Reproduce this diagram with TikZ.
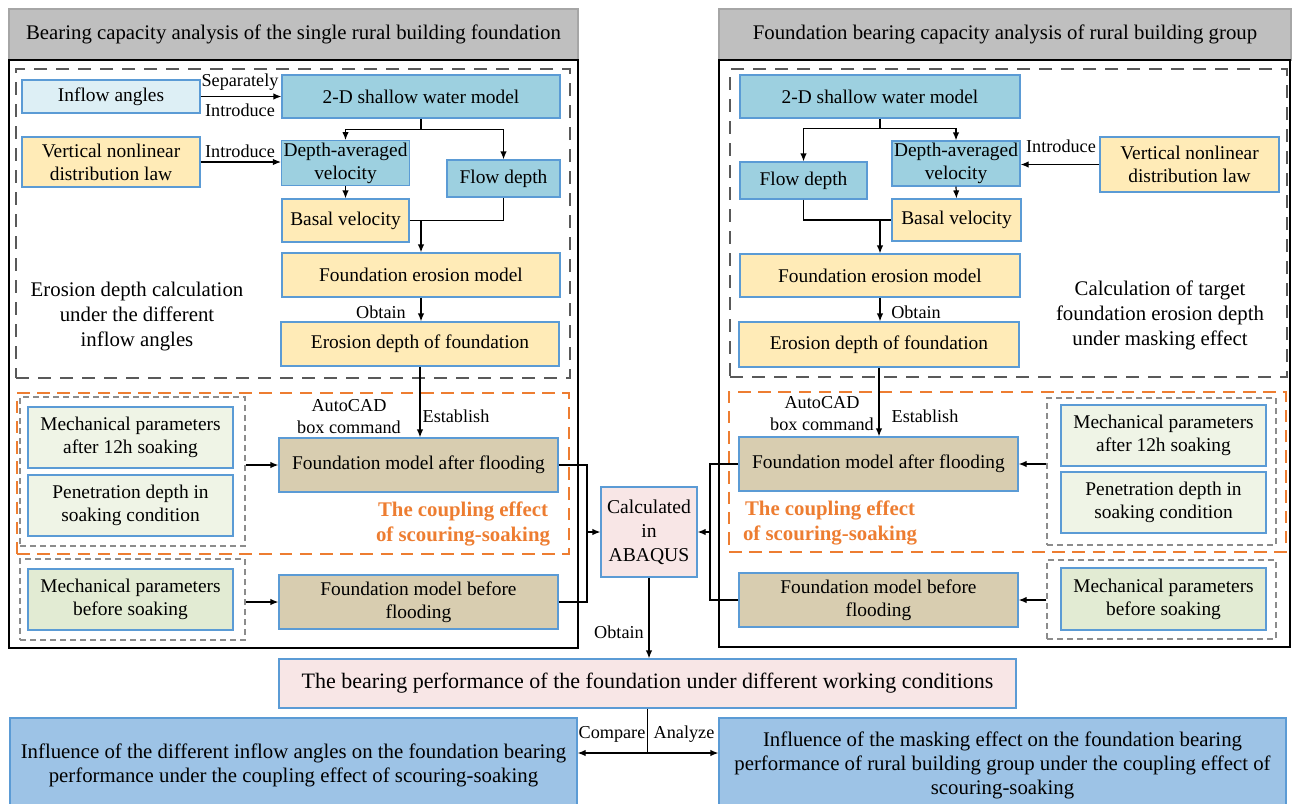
\documentclass[tikz,border=0pt]{standalone}
\usepackage{fontspec}
\setmainfont{Liberation Serif}
\usetikzlibrary{arrows.meta,positioning,calc}

\definecolor{boxline}{HTML}{5B9BD5}
\definecolor{titlegray}{HTML}{BFBFBF}
\definecolor{titleline}{HTML}{A6A6A6}
\definecolor{waterblue}{HTML}{9DD0E0}
\definecolor{paleblue}{HTML}{DDEFF5}
\definecolor{lawyellow}{HTML}{FFEBB7}
\definecolor{modeltan}{HTML}{D8CDB0}
\definecolor{palegreen}{HTML}{EFF4E6}
\definecolor{soakgreen}{HTML}{E2EBD3}
\definecolor{calcpink}{HTML}{F8E6E6}
\definecolor{resultblue}{HTML}{9DC3E6}
\definecolor{darkdashc}{HTML}{595959}
\definecolor{lightdashc}{HTML}{8C8C8C}
\definecolor{couplingc}{HTML}{ED7D31}

\begin{document}
\begin{tikzpicture}[
  x=0.5pt, y=-0.5pt,
  >={Latex[length=4pt,width=3.2pt]},
  font=\fontsize{10.4}{12.5}\selectfont,
  sz/.style 2 args={minimum width=#1*0.5pt, minimum height=#2*0.5pt},
  base/.style={draw=boxline, line width=0.6pt, inner sep=1pt, align=center, font=\fontsize{9.7}{11.5}\selectfont},
  water/.style={base, fill=waterblue},
  inflowbox/.style={base, fill=paleblue},
  lawbox/.style={base, fill=lawyellow},
  modelbox/.style={base, fill=modeltan},
  parabox/.style={base, fill=palegreen},
  drybox/.style={base, fill=soakgreen},
  calcbox/.style={base, fill=calcpink},
  resultbox/.style={base, fill=resultblue, font=\fontsize{10.4}{12}\selectfont},
  titlebox/.style={draw=titleline, fill=titlegray, line width=0.6pt},
  frame/.style={draw=black, line width=0.6pt},
  darkdash/.style={draw=darkdashc, line width=1pt, dash pattern=on 6.5pt off 4.5pt},
  orangedash/.style={draw=couplingc, line width=1.1pt, dash pattern=on 6.3pt off 3.8pt},
  lightdash/.style={draw=lightdashc, line width=0.6pt, dash pattern=on 3pt off 2pt},
  lab/.style={inner sep=1pt, font=\fontsize{9.1}{11}\selectfont, align=center},
  coupling/.style={text=couplingc, font=\fontsize{10.4}{12.5}\selectfont\bfseries, align=center},
  conn/.style={line width=0.6pt}
]
\useasboundingbox (0,0) rectangle (1293,803);

% ---------------- left: single rural building ----------------
\node[titlebox, sz={569}{51}] (title1) at (293.5,34.5) {Bearing capacity analysis of the single rural building foundation};
\draw[frame] (9,60) rectangle (578,648);
\node[darkdash, sz={554}{309}] (dash1) at (293,223.5) {};
\node[orangedash, sz={552}{161}] (orange1) at (293,473.5) {};
\node[lightdash, sz={225}{149}] (gray1) at (132.5,471.5) {};
\node[lightdash, sz={225}{81}] (gray2) at (132.5,599.5) {};

\node[inflowbox, sz={178}{33}] (inflow) at (111,96.5) {Inflow angles};
\node[water, sz={278}{43}] (swm1) at (421,96.5) {2-D shallow water model};
\node[lawbox, sz={178}{50}] (vnl1) at (111,162) {Vertical nonlinear\\distribution law};
\node[water, sz={127}{44}] (dav1) at (345.5,163) {Depth-averaged\\velocity};
\node[water, sz={113}{37}] (fd1) at (503.5,178.5) {Flow depth};
\node[lawbox, sz={127}{43}] (bv1) at (345.5,220.5) {Basal velocity};
\node[lawbox, sz={278}{44}] (fem1) at (421,275) {Foundation erosion model};
\node[lawbox, sz={278}{44}] (edf1) at (420,344) {Erosion depth of foundation};
\node[align=center] (calc1) at (137,317) {Erosion depth calculation\\under the different\\inflow angles};

\node[parabox, sz={205}{61}] (mpa1) at (130.5,437.5) {Mechanical parameters\\after 12h soaking};
\node[parabox, sz={205}{61}] (pen1) at (130.5,505.5) {Penetration depth in\\soaking condition};
\node[modelbox, sz={279}{54}] (fma1) at (418.5,465) {Foundation model after flooding};
\node[coupling] (cpl1) at (463,524) {The coupling effect\\of scouring-soaking};
\node[drybox, sz={205}{61}] (mpb1) at (130.5,599.5) {Mechanical parameters\\before soaking};
\node[modelbox, sz={279}{54}] (fmb1) at (418.5,602) {Foundation model before\\flooding};

\node[lab] (sep1) at (240,82) {Separately};
\node[lab] (intro1) at (240,110) {Introduce};
\node[lab] (intro2) at (240,151) {Introduce};
\node[lab] (obt1) at (381,312) {Obtain};
\node[lab] (cad1) at (349,417) {AutoCAD\\box command};
\node[lab] (est1) at (456,416) {Establish};

\draw[conn,->] (inflow.east) -- (swm1.west);
\draw[conn,->] (vnl1.east) -- (dav1.west |- vnl1.east);
\draw[conn] (swm1.south) -- ++(0,11) coordinate (s1);
\draw[conn,->] (s1) -| (dav1.north);
\draw[conn,->] (s1) -| (fd1.north);
\draw[conn,->] (dav1.south) -- (bv1.north);
\draw[conn] (bv1.east) -| (fd1.south);
\draw[conn,->] (bv1.east -| fem1.north) -- (fem1.north);
\draw[conn,->] (fem1.south) -- (fem1.south |- edf1.north);
\draw[conn,->] (edf1.south) -- (edf1.south |- fma1.north);
\draw[conn,->] (gray1.east |- fma1.west) -- (fma1.west);
\draw[conn,->] (gray2.east |- fmb1.west) -- (fmb1.west);

% ---------------- centre ----------------
\node[calcbox, sz={96}{90}, font=\fontsize{9.8}{12}\selectfont] (abaqus) at (649,532) {Calculated\\in\\ABAQUS};
\coordinate (j1) at (587,532);
\coordinate (j2) at (710,532);
\draw[conn] (fma1.east) -| (j1);
\draw[conn] (fmb1.east) -| (j1);
\draw[conn,->] (j1) -- (abaqus.west);

% ---------------- right: rural building group ----------------
\node[titlebox, sz={572}{51}] (title2) at (1005,34.5) {Foundation bearing capacity analysis of rural building group};
\draw[frame] (719,60) rectangle (1290,647);
\node[darkdash, sz={557}{308}] (dash2) at (1008.5,223) {};
\node[orangedash, sz={557}{160}] (orange2) at (1007.5,472) {};
\node[lightdash, sz={229}{147}] (gray3) at (1161.5,471.5) {};
\node[lightdash, sz={229}{79}] (gray4) at (1161.5,599.5) {};

\node[water, sz={280}{43}] (swm2) at (880,96.5) {2-D shallow water model};
\node[water, sz={127}{37}] (fd2) at (803.5,180.5) {Flow depth};
\node[water, sz={128}{45}] (dav2) at (956,163.5) {Depth-averaged\\velocity};
\node[lawbox, sz={179}{55}] (vnl2) at (1189.5,164.5) {Vertical nonlinear\\distribution law};
\node[lawbox, sz={129}{42}] (bv2) at (956.5,220) {Basal velocity};
\node[lawbox, sz={280}{43}] (fem2) at (880,275.5) {Foundation erosion model};
\node[lawbox, sz={280}{45}] (edf2) at (879,344.5) {Erosion depth of foundation};
\node[align=center] (calc2) at (1160,315) {Calculation of target\\foundation erosion depth\\under masking effect};

\node[parabox, sz={205}{61}] (mpa2) at (1163.5,435.5) {Mechanical parameters\\after 12h soaking};
\node[parabox, sz={205}{61}] (pen2) at (1163.5,502.5) {Penetration depth in\\soaking condition};
\node[modelbox, sz={279}{54}] (fma2) at (878.5,464) {Foundation model after flooding};
\node[coupling] (cpl2) at (830,523) {The coupling effect\\of scouring-soaking};
\node[drybox, sz={205}{62}] (mpb2) at (1163.5,599) {Mechanical parameters\\before soaking};
\node[modelbox, sz={279}{54}] (fmb2) at (878.5,600) {Foundation model before\\flooding};

\node[lab] (intro3) at (1061,146) {Introduce};
\node[lab] (obt2) at (916,312) {Obtain};
\node[lab] (cad2) at (822,414) {AutoCAD\\box command};
\node[lab] (est2) at (925,416) {Establish};

\draw[conn] (swm2.south) -- ++(0,10) coordinate (s2);
\draw[conn,->] (s2) -| (dav2.north);
\draw[conn,->] (s2) -| (fd2.north);
\draw[conn,->] (vnl2.west) -- (dav2.east |- vnl2.west);
\draw[conn,->] (dav2.south) -- (bv2.north);
\draw[conn] (fd2.south) |- (bv2.west);
\draw[conn,->] (fem2.north |- bv2.west) -- (fem2.north);
\draw[conn,->] (fem2.south) -- (fem2.south |- edf2.north);
\draw[conn,->] (edf2.south) -- (edf2.south |- fma2.north);
\draw[conn,->] (gray3.west |- fma2.east) -- (fma2.east);
\draw[conn,->] (gray4.west |- fmb2.east) -- (fmb2.east);
\draw[conn] (fma2.west) -| (j2);
\draw[conn] (fmb2.west) -| (j2);
\draw[conn,->] (j2) -- (abaqus.east);

% ---------------- bottom ----------------
\node[calcbox, sz={737}{49}, font=\fontsize{11}{13}\selectfont] (bearing) at (647.5,683.5) {The bearing performance of the foundation under different working conditions};
\node[lab] (obt3) at (619,632) {Obtain};
\draw[conn,->] (abaqus.south) -- (abaqus.south |- bearing.north);

\node[resultbox, sz={567}{94}] (infl1) at (293.5,765) {Influence of the different inflow angles on the foundation bearing\\performance under the coupling effect of scouring-soaking};
\node[resultbox, sz={567}{94}] (infl2) at (1002.5,765) {Influence of the masking effect on the foundation bearing\\performance of rural building group under the coupling effect of\\scouring-soaking};
\coordinate (cmp) at (647.5,753);
\draw[conn] (bearing.south) -- (cmp);
\draw[conn,<->] (infl1.east |- cmp) -- (infl2.west |- cmp);
\node[lab] (compare) at (612,734) {Compare};
\node[lab] (analyze) at (684,734) {Analyze};
\end{tikzpicture}
\end{document}
